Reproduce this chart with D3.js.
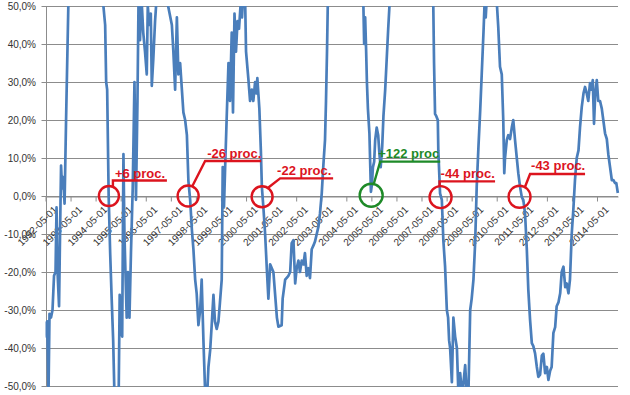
<!DOCTYPE html>
<html>
<head>
<meta charset="utf-8">
<script src="https://cdn.jsdelivr.net/npm/d3@7"></script>
<style>
  html, body { margin: 0; padding: 0; background: #fff; }
  svg { display: block; }
</style>
</head>
<body>
<div id="chart"></div>
<script>
// series: decimal year -> change in %
const years = [
  1992.33, 1992.37, 1992.40, 1992.45, 1992.49, 1992.55, 1992.61, 1992.67, 1992.73, 1992.77,
  1992.81, 1992.87, 1992.91, 1992.95, 1992.99, 1993.03, 1993.09, 1993.15, 1993.24, 1993.91,
  1994.64, 1994.71, 1994.75, 1994.79, 1994.85, 1994.91, 1994.97, 1995.03, 1995.09, 1995.17,
  1995.25, 1995.29, 1995.33, 1995.39, 1995.44, 1995.48, 1995.52, 1995.57, 1995.62, 1995.68,
  1995.74, 1995.81, 1995.88, 1995.94, 1996.00, 1996.04, 1996.07, 1996.10, 1996.16, 1996.23,
  1996.30, 1996.37, 1996.41, 1996.47, 1996.53, 1996.57, 1996.63, 1996.70, 1996.76, 1996.98,
  1997.22, 1997.28, 1997.37, 1997.43, 1997.50, 1997.57, 1997.63, 1997.70, 1997.77, 1997.83,
  1997.90, 1997.97, 1998.03, 1998.10, 1998.17, 1998.23, 1998.30, 1998.36, 1998.43, 1998.50,
  1998.56, 1998.63, 1998.70, 1998.76, 1998.83, 1998.90, 1998.96, 1999.03, 1999.09, 1999.16,
  1999.23, 1999.29, 1999.36, 1999.40, 1999.45, 1999.49, 1999.56, 1999.63, 1999.69, 1999.76,
  1999.81, 1999.87, 1999.93, 1999.99, 2000.05, 2000.11, 2000.17, 2000.22, 2000.29, 2000.33,
  2000.42, 2000.49, 2000.56, 2000.62, 2000.69, 2000.74, 2000.78, 2000.86, 2000.92, 2000.96,
  2001.02, 2001.09, 2001.16, 2001.22, 2001.29, 2001.42, 2001.49, 2001.56, 2001.62, 2001.75,
  2001.79, 2001.89, 2002.02, 2002.09, 2002.15, 2002.22, 2002.29, 2002.35, 2002.42, 2002.48,
  2002.55, 2002.62, 2002.68, 2002.75, 2002.82, 2002.88, 2002.95, 2003.02, 2003.08, 2003.15,
  2003.22, 2003.28, 2003.35, 2003.41, 2003.48, 2003.52, 2003.56, 2003.59, 2004.28, 2005.01,
  2005.04, 2005.08, 2005.12, 2005.15, 2005.19, 2005.25, 2005.31, 2005.35, 2005.39, 2005.44,
  2005.48, 2005.54, 2005.60, 2005.65, 2005.70, 2005.76, 2005.81, 2005.88, 2005.94, 2006.00,
  2006.05, 2006.91, 2007.80, 2007.83, 2007.87, 2007.92, 2007.98, 2008.00, 2008.07, 2008.14,
  2008.20, 2008.27, 2008.34, 2008.39, 2008.43, 2008.47, 2008.54, 2008.60, 2008.67, 2008.74,
  2008.80, 2008.87, 2008.94, 2008.99, 2009.07, 2009.13, 2009.20, 2009.27, 2009.33, 2009.40,
  2009.47, 2009.53, 2009.60, 2009.67, 2009.73, 2009.80, 2009.84, 2009.89, 2009.94, 2010.10,
  2010.34, 2010.39, 2010.46, 2010.53, 2010.59, 2010.63, 2010.66, 2010.73, 2010.79, 2010.86,
  2010.93, 2010.99, 2011.06, 2011.13, 2011.19, 2011.26, 2011.33, 2011.39, 2011.46, 2011.53,
  2011.59, 2011.66, 2011.73, 2011.79, 2011.86, 2011.93, 2011.99, 2012.06, 2012.13, 2012.19,
  2012.26, 2012.33, 2012.39, 2012.46, 2012.52, 2012.59, 2012.66, 2012.72, 2012.79, 2012.86,
  2012.92, 2012.99, 2013.06, 2013.12, 2013.19, 2013.25, 2013.32, 2013.39, 2013.45, 2013.52,
  2013.59, 2013.65, 2013.72, 2013.79, 2013.85, 2013.92, 2013.98, 2014.05, 2014.10, 2014.16,
  2014.21, 2014.26, 2014.32, 2014.38, 2014.45, 2014.52, 2014.58, 2014.65, 2014.72, 2014.78,
  2014.85, 2014.92, 2014.98, 2015.05, 2015.10, 2015.16
];
const changePct = [
  -33, -37, -33, -52, -31, -32, -30, -21, -20, -3,
  -20, -29, -10, 8, 2, 5, -2, 20, 50, 78,
  50, 45, 30, 28, 0, -15, -27, -38, -55, -62,
  -52, -26, -35, -37, 11, -10, -20, -32, -20, -32,
  -15, 2, 30, -1, 25, 50, 55, 41, 52, 43,
  38, 32, 50, 45, 48, 29, 36, 46, 52, 75,
  50, 48, 45, 38, 28, 47, 32, 35, 28, 22,
  20, 16, 4, -1, -9, -14, -22, -25.6, -34, -30,
  -22, -38, -52, -55, -45, -40.5, -34, -26, -33, -35,
  -33, -28, -22, 7.6, -3, 6, 21, 35, 25, 43,
  22, 48, 38, 46, 44, 50, 47, 53, 53, 38,
  31, 25, 28, 25, 30, 27, 31, 23, 12, 2.4,
  -3, -10, -19.5, -27, -18, -20, -26, -32, -34.4, -34,
  -27, -22, -21, -20, -12.4, -11.6, -23, -19, -17, -20,
  -17, -18, -15, -21, -19, -21.6, -14, -13, -12, -10,
  -8, -4.6, 0.7, 7.6, 14.7, 25, 38, 50, 85, 50,
  40, 47, 38, 30, 23, 16.5, 1.1, 3, 7.6, 9,
  14.7, 18, 16, 11, 7.6, 13, 21, 28, 36, 44,
  50, 90, 50, 35, 21.6, 21, 20, 12, 0.7, -1,
  -11.6, -18.6, -30, -32, -38, -40, -49, -32, -37, -40,
  -52, -46.6, -52, -50, -44.5, -52, -52, -30, -27, -22,
  -12, 2.4, 13, 22.6, 32, 43, 50, 47, 53, 60,
  50, 44.5, 34, 32, 20, 6, 10, 14.7, 16, 15,
  18, 20, 14.7, 10, 6, 2.4, -0.3, -1, -4.6, -14,
  -24.7, -32.6, -38.7, -39.5, -41.4, -45, -47.6, -47, -42, -41.5,
  -46.6, -45, -48.4, -46, -45, -36, -34.5, -29, -28, -25.6,
  -20, -18.6, -24, -23, -25.6, -22, -10, -3, 4.2, 10,
  12, 18, 23.4, 27, 28.7, 27, 25, 29.7, 28, 30.5,
  19, 27, 30.5, 25, 25, 23, 20, 16.5, 15, 11,
  7.6, 4.2, 4.2, 3.4, 3.4, 0.8
];

// x axis: one label per year, on May 1st
const tickYears = d3.range(1992, 2015);
const yTicks = [-50, -40, -30, -20, -10, 0, 10, 20, 30, 40, 50];

// callouts
const calloutLabels = ["+6 proc.", "-26 proc.", "-22 proc.", "+122 proc", "-44 proc.", "-43 proc."];
const calloutYears  = [1994.86, 1998.02, 2000.97, 2005.32, 2008.09, 2011.24];
const calloutValues = [0, 0, -0.2, 0.2, -0.3, -0.2];
const calloutColors = ["#dc141e", "#dc141e", "#dc141e", "#1e8a28", "#dc141e", "#dc141e"];

const width = 630, height = 395;
const plotLeft = 45.5, plotRight = 618, plotTop = 6, plotBottom = 386;

const toDate = v => {
  const yr = Math.floor(v);
  const a = new Date(yr, 0, 1), b = new Date(yr + 1, 0, 1);
  return new Date(+a + (v - yr) * (b - a));
};

const data = years.map((yr, i) => ({ date: toDate(yr), v: changePct[i] }));

const x = d3.scaleTime()
    .domain([new Date(1992, 4, 1), new Date(2015, 2, 3)])
    .range([plotLeft, plotRight]);

const y = d3.scaleLinear()
    .domain([-50, 50])
    .range([plotBottom, plotTop]);

const svg = d3.select("#chart")
    .append("svg")
    .attr("width", width)
    .attr("height", height);

// gridlines
svg.append("g")
    .selectAll("line")
    .data(yTicks)
    .join("line")
        .attr("x1", plotLeft - 4)
        .attr("x2", plotRight)
        .attr("y1", d => Math.round(y(d)) + 0.5)
        .attr("y2", d => Math.round(y(d)) + 0.5)
        .attr("stroke", "#8c8c8c")
        .attr("stroke-width", 1);

// y axis line
svg.append("line")
    .attr("x1", Math.round(plotLeft) + 0.5)
    .attr("x2", Math.round(plotLeft) + 0.5)
    .attr("y1", plotTop)
    .attr("y2", plotBottom + 1)
    .attr("stroke", "#8c8c8c");

// y labels
const fmtPct = d => d3.format(".1f")(d).replace(".", ",").replace("−", "-") + "%";
svg.append("g")
    .selectAll("text")
    .data(yTicks)
    .join("text")
        .text(fmtPct)
        .attr("x", 36)
        .attr("y", d => y(d))
        .attr("dy", "0.35em")
        .attr("text-anchor", "end")
        .attr("font-family", "Liberation Sans, Arial, sans-serif")
        .attr("font-size", "10px")
        .attr("fill", "#333");

// x axis on the zero line
const xAxis = d3.axisBottom(x)
    .tickValues(tickYears.map(yr => new Date(yr, 4, 1)))
    .tickFormat(d3.timeFormat("%Y-%m-%d"))
    .tickSize(5)
    .tickSizeOuter(0);

const gx = svg.append("g")
    .attr("transform", `translate(0, ${Math.round(y(0)) + 0.5})`)
    .call(xAxis);

gx.select(".domain").attr("stroke", "#8c8c8c");
gx.selectAll(".tick line").attr("stroke", "#8c8c8c");
gx.selectAll(".tick text")
    .attr("font-family", "Liberation Sans, Arial, sans-serif")
    .attr("font-size", "10px")
    .attr("fill", "#333")
    .attr("text-anchor", "end")
    .attr("transform", "translate(2, 4) rotate(-45)")
    .attr("dy", "0.6em")
    .attr("y", 8)
    .attr("x", 0);

// clipped series line
svg.append("clipPath")
    .attr("id", "plot-clip")
    .append("rect")
        .attr("x", plotLeft)
        .attr("y", plotTop)
        .attr("width", plotRight - plotLeft + 2)
        .attr("height", plotBottom - plotTop + 1);

svg.append("path")
    .datum(data)
    .attr("clip-path", "url(#plot-clip)")
    .attr("fill", "none")
    .attr("stroke", "#4a7ebb")
    .attr("stroke-width", 2.7)
    .attr("stroke-linejoin", "round")
    .attr("d", d3.line().x(d => x(d.date)).y(d => y(d.v)));

// callouts: circle, leader (kink dx/dy, end x offset), label
const calloutLayout = [
  { r: 10,   start: [4, -10],   kink: [4, -15.5],  end: 58,  text: [6, -18.5] },
  { r: 10.5, start: [4, -9.5],  kink: [17, -35],   end: 73,  text: [19, -38.5] },
  { r: 10.5, start: [6, -9],    kink: [18, -18.4], end: 71,  text: [15, -22.2] },
  { r: 11.5, start: [2.5, -11], kink: [9, -33.6],  end: 69,  text: [7, -37] },
  { r: 11,   start: [-1, -11],  kink: [-1, -15.8], end: 54.5, text: [0, -19.5] },
  { r: 11,   start: [5.5, -10], kink: [10.5, -22.7], end: 65.5, text: [11.5, -26.5] }
];

const callouts = svg.append("g")
    .selectAll("g")
    .data(calloutLabels.map((label, i) => ({
        label,
        cx: x(toDate(calloutYears[i])),
        cy: y(calloutValues[i]),
        color: calloutColors[i],
        lay: calloutLayout[i]
    })))
    .join("g");

callouts.append("circle")
    .attr("cx", d => d.cx)
    .attr("cy", d => d.cy)
    .attr("r", d => d.lay.r)
    .attr("fill", "none")
    .attr("stroke", d => d.color)
    .attr("stroke-width", 2.4);

callouts.append("polyline")
    .attr("points", d => [
        [d.cx + d.lay.start[0], d.cy + d.lay.start[1]],
        [d.cx + d.lay.kink[0], d.cy + d.lay.kink[1]],
        [d.cx + d.lay.end, d.cy + d.lay.kink[1]]
    ].map(p => p.join(",")).join(" "))
    .attr("fill", "none")
    .attr("stroke", d => d.color)
    .attr("stroke-width", 2.4);

callouts.append("text")
    .text(d => d.label)
    .attr("x", d => d.cx + d.lay.text[0])
    .attr("y", d => d.cy + d.lay.text[1])
    .attr("font-family", "Liberation Sans, Arial, sans-serif")
    .attr("font-size", "13px")
    .attr("font-weight", "bold")
    .attr("fill", d => d.color);
</script>
</body>
</html>
